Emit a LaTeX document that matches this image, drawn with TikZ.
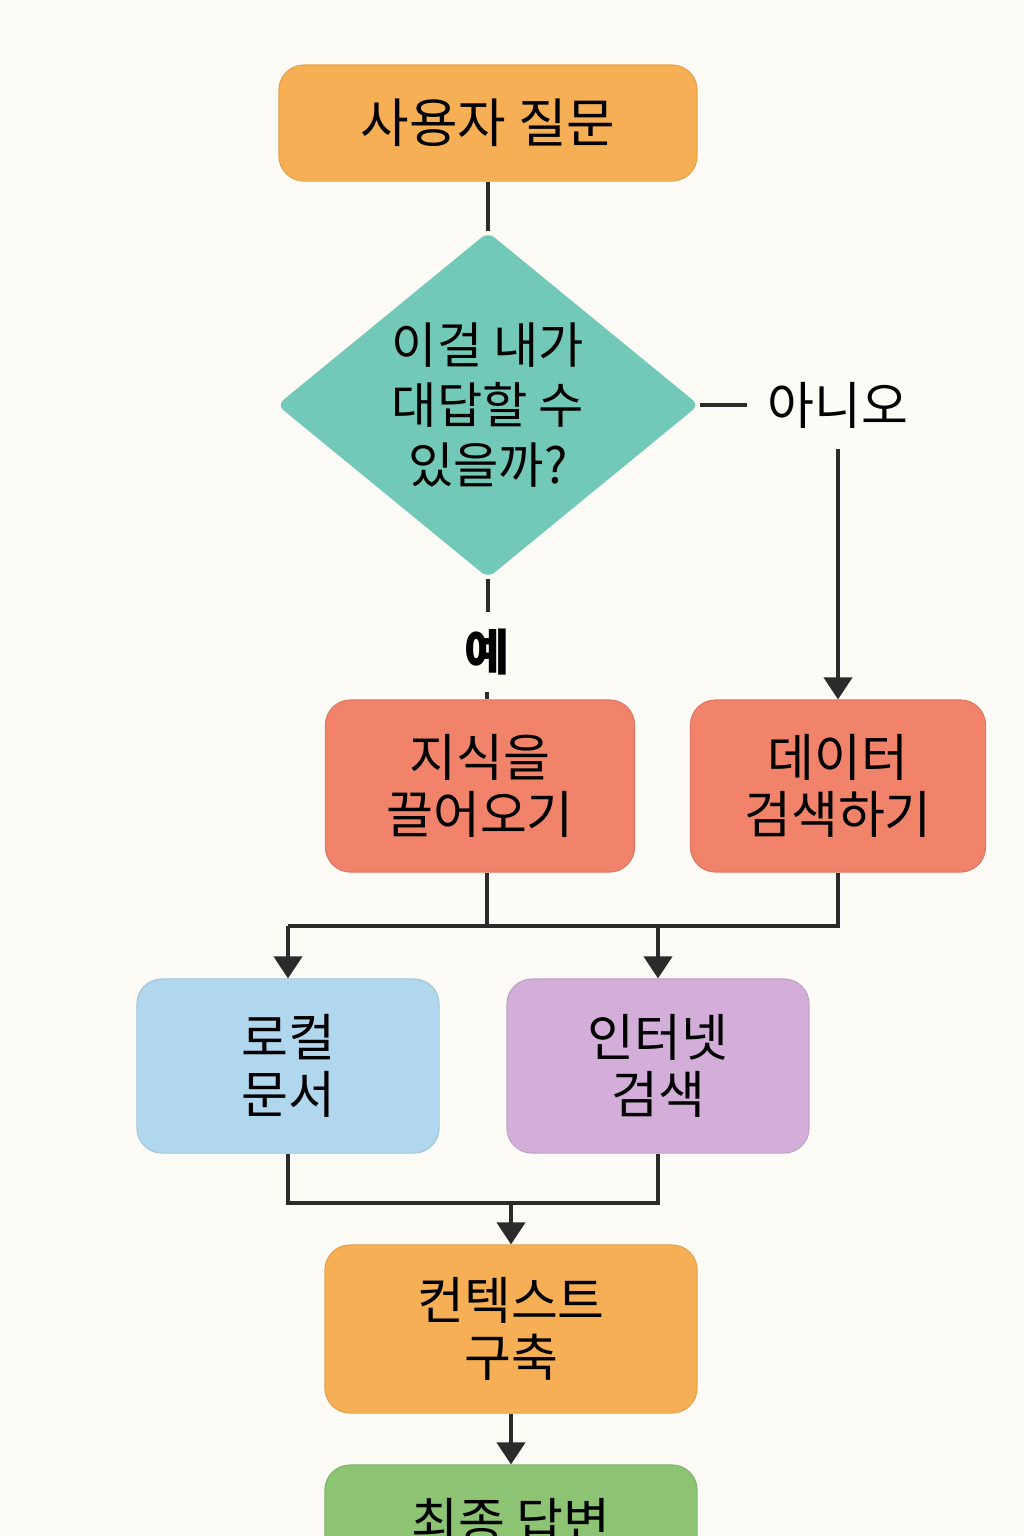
\documentclass[tikz,border=0pt]{standalone}
\usepackage{fontspec}
\newfontfamily\krfont{Noto Sans CJK KR}
\usetikzlibrary{arrows.meta,shapes.geometric}
\definecolor{bgcream}{HTML}{FDFBF6}
\definecolor{askorange}{HTML}{F7AF55}
\definecolor{decteal}{HTML}{72C9B7}
\definecolor{stepsalmon}{HTML}{F0836A}
\definecolor{localblue}{HTML}{B1D7EE}
\definecolor{webpurple}{HTML}{D2AED8}
\definecolor{endgreen}{HTML}{8CC474}
\definecolor{wire}{HTML}{2B2B2B}

\begin{document}
\begin{tikzpicture}[x=0.01cm,y=-0.01cm,>={Triangle[width=2.8mm,length=2.2mm]},
  txt/.style={font=\krfont\fontsize{14.5}{16.4}\selectfont, align=center},
  box/.style={txt, rounded corners=0.25cm, draw=#1!92!black, line width=0.3pt, fill=#1},
  wired/.style={draw=wire, line width=0.4mm},
  arr/.style={wired, ->}]
  \useasboundingbox[fill=bgcream] (0,0) rectangle (1024,1536);

  % boxes
  \node[box=askorange, minimum width=4.18cm, minimum height=1.16cm,
        font=\krfont\fontsize{15}{17}\selectfont] (ask) at (488,123) {사용자 질문};
  \node[txt, diamond, aspect=1.22, inner sep=0pt, fill=decteal, rounded corners=0.08cm,
        minimum width=4.22cm, minimum height=3.46cm,
        font=\krfont\fontsize{14}{17}\selectfont] (canI) at (488,405)
        {이걸 내가\\대답할 수\\있을까?};
  \node[box=stepsalmon, minimum width=3.09cm, minimum height=1.72cm] (recall) at (480,786) {지식을\\끌어오기};
  \node[box=stepsalmon, minimum width=2.95cm, minimum height=1.72cm] (lookup) at (838,786) {데이터\\검색하기};
  \node[box=localblue, minimum width=3.02cm, minimum height=1.74cm] (localdoc) at (288,1066) {로컬\\문서};
  \node[box=webpurple, minimum width=3.02cm, minimum height=1.74cm] (websearch) at (658,1066) {인터넷\\검색};
  \node[box=askorange, minimum width=3.72cm, minimum height=1.68cm] (context) at (511,1329) {컨텍스트\\구축};
  \node[box=endgreen, minimum width=3.72cm, minimum height=1.12cm] (answer) at (511,1521) {최종 답변};

  % labels
  \node[txt, inner sep=0.2cm] (no) at (838,405) {아니오};
  \node[txt, inner sep=0.16cm, font=\krfont\bfseries\fontsize{14}{16}\selectfont] (yes) at (487,652) {예};

  \coordinate (bus) at (0,926);
  \coordinate (merge) at (0,1203);

  % connectors
  \draw[wired] (ask.south) -- (canI.north);
  \draw[wired] (canI.east) -- (no.west);
  \draw[arr] (no.south) -- (lookup.north);
  \draw[wired] (canI.south) -- (canI.south |- yes.north);
  \draw[wired] (yes.south) -- (yes.south |- recall.north);
  \draw[wired] (yes |- recall.south) -- (yes |- bus);
  \draw[wired] (lookup.south) |- (localdoc.north |- bus);
  \draw[arr] (localdoc.north |- bus) -- (localdoc.north);
  \draw[arr] (websearch.north |- bus) -- (websearch.north);
  \draw[wired] (localdoc.south) |- (websearch.south |- merge) -- (websearch.south);
  \draw[arr] (context.north |- merge) -- (context.north);
  \draw[arr] (context.south) -- (answer.north);
\end{tikzpicture}
\end{document}
